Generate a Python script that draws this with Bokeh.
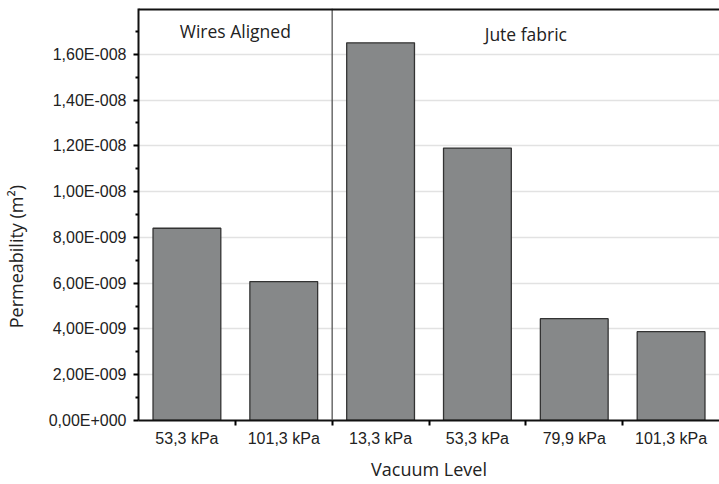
from bokeh.plotting import figure
from bokeh.models import (ColumnDataSource, FixedTicker, CustomJSTickFormatter,
                          Span, Label, Range1d)
from bokeh.embed import file_html
from bokeh.resources import INLINE

# ---- data ----
categories = ["53,3 kPa", "101,3 kPa", "13,3 kPa", "53,3 kPa", "79,9 kPa", "101,3 kPa"]
groups = ["Wires Aligned", "Wires Aligned", "Jute fabric", "Jute fabric", "Jute fabric", "Jute fabric"]
permeability = [8.4e-9, 6.07e-9, 1.65e-8, 1.19e-8, 4.45e-9, 3.88e-9]
y_major_ticks = [0, 2e-9, 4e-9, 6e-9, 8e-9, 1e-8, 1.2e-8, 1.4e-8, 1.6e-8]
y_minor_ticks = [1e-9, 3e-9, 5e-9, 7e-9, 9e-9, 1.1e-8, 1.3e-8, 1.5e-8, 1.7e-8]
y_max = 1.8e-8

n = len(categories)
xs = [i + 0.5 for i in range(n)]
src = ColumnDataSource(dict(x=xs, top=permeability, cat=categories))

p = figure(width=719, height=484, output_backend="svg", toolbar_location=None,
           x_range=Range1d(0, n), y_range=Range1d(0, y_max),
           min_border_left=135, min_border_right=0, min_border_top=8, min_border_bottom=64)
p.outline_line_color = None
p.background_fill_color = "white"
p.border_fill_color = "white"

p.vbar(x="x", top="top", width=0.7, source=src, fill_color="#868889",
       line_color="#333333", line_width=1.3)

# separator between groups
first_group = groups[0]
n_first = sum(1 for g in groups if g == first_group)
p.add_layout(Span(location=n_first, dimension="height", line_color="#555555", line_width=1.3))
# top border line of the frame
p.add_layout(Span(location=y_max, dimension="width", line_color="#111111", line_width=4))

# group labels
group_names = []
for g in groups:
    if g not in group_names:
        group_names.append(g)
label_y = [1.70e-8, 1.69e-8]
for k, g in enumerate(group_names):
    idx = [i for i, gg in enumerate(groups) if gg == g]
    cx = sum(xs[i] for i in idx) / len(idx)
    p.add_layout(Label(x=cx, y=label_y[k], text=g, text_align="center", text_baseline="middle",
                       text_font="Open Sans", text_font_size="17.5px", text_color="#222222"))

# y axis
yax = p.yaxis[0]
yax.ticker = FixedTicker(ticks=y_major_ticks, minor_ticks=y_minor_ticks)
yax.formatter = CustomJSTickFormatter(code="""
const s = tick.toExponential(2);
const parts = s.split("e");
const m = parts[0].replace(".", ",");
let e = parseInt(parts[1]);
const sign = e < 0 ? "-" : "+";
e = Math.abs(e);
return m + "E" + sign + String(e).padStart(3, "0");
""")
# trailing no-break spaces shift the rotated title slightly below the frame centre
yax.axis_label = "Permeability (m²)" + "\u00a0" * 18
yax.axis_label_text_font = "Open Sans"
yax.axis_label_text_font_size = "18px"
yax.axis_label_text_font_style = "normal"
yax.axis_label_text_color = "#222222"
yax.axis_label_standoff = 18
yax.major_label_text_font = "Liberation Sans"
yax.major_label_text_font_size = "16px"
yax.major_label_text_color = "#222222"
yax.major_label_standoff = 7
yax.axis_line_width = 2
yax.axis_line_color = "#111111"
yax.major_tick_in = 0
yax.major_tick_out = 5
yax.major_tick_line_width = 2
yax.minor_tick_in = 0
yax.minor_tick_out = 3
yax.minor_tick_line_width = 2

# x axis
xax = p.xaxis[0]
xax.ticker = FixedTicker(ticks=xs, minor_ticks=list(range(1, n)))
xax.formatter = CustomJSTickFormatter(args=dict(labels=categories),
                                      code="return labels[Math.floor(tick)];")
xax.axis_label = "Vacuum Level"
xax.axis_label_text_font = "Open Sans"
xax.axis_label_text_font_size = "18px"
xax.axis_label_text_font_style = "normal"
xax.axis_label_text_color = "#222222"
xax.axis_label_standoff = 7
xax.major_label_text_font = "Liberation Sans"
xax.major_label_text_font_size = "16px"
xax.major_label_text_color = "#222222"
xax.major_label_standoff = 4
xax.axis_line_width = 2
xax.axis_line_color = "#111111"
xax.major_tick_line_color = None
xax.major_tick_out = 5
xax.major_tick_in = 0
xax.minor_tick_in = 0
xax.minor_tick_out = 5
xax.minor_tick_line_width = 2

# grid
p.xgrid.visible = False
p.ygrid.ticker = FixedTicker(ticks=y_major_ticks)
p.ygrid.grid_line_color = "#e2e2e2"
p.ygrid.grid_line_width = 1.5

open("out.html", "w").write(file_html(p, INLINE))
